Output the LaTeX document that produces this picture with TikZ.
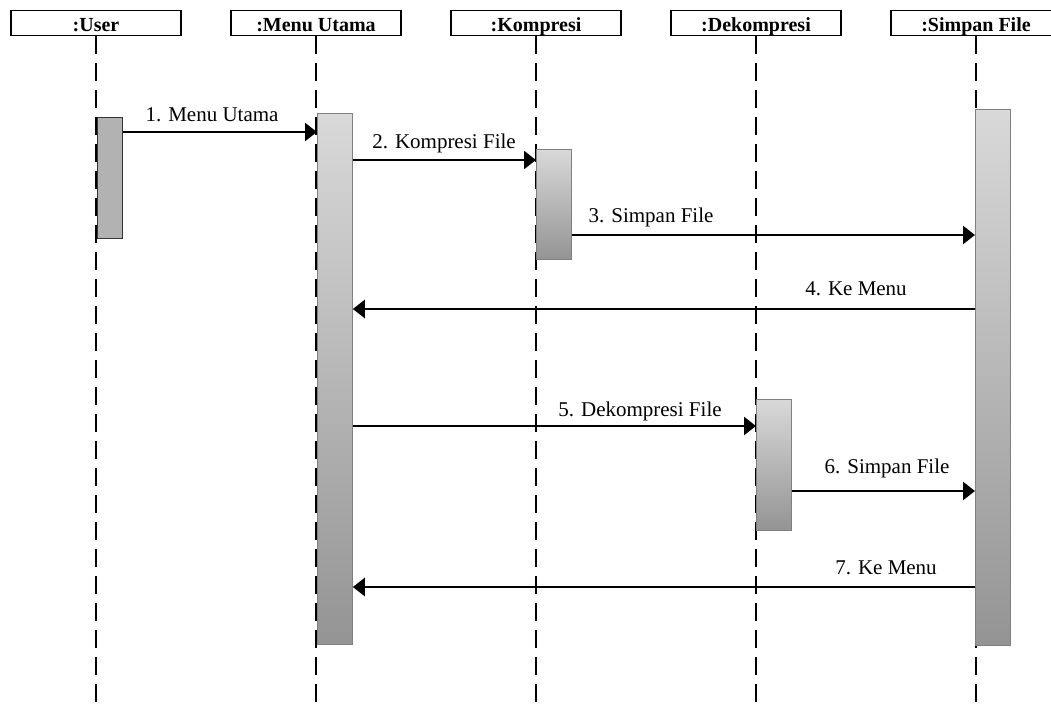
\documentclass[tikz,border=0pt]{standalone}
\usepackage{fontspec}
\setmainfont{Liberation Serif}
\usetikzlibrary{arrows.meta}
\begin{document}
\begin{tikzpicture}[x=1pt,y=-1pt,
  header/.style={draw=black,line width=1.3pt,fill=white,minimum width=170pt,minimum height=25pt,inner sep=0pt,text height=17pt,text depth=0.5pt,font=\fontsize{20}{20}\selectfont\bfseries},
  lifeline/.style={line width=2pt,dash pattern=on 18pt off 9pt},
  actflat/.style={draw=black!80,line width=0.8pt,fill=black!30,anchor=north west,inner sep=0pt,minimum width=25pt},
  actgrad/.style={draw=black!50,line width=0.8pt,top color=black!15,bottom color=black!42,anchor=north west,inner sep=0pt,minimum width=35pt},
  msg/.style={line width=2.4pt,-{Triangle[length=12pt,width=18pt]}},
  lbl/.style={font=\fontsize{21}{21}\selectfont,anchor=base,inner sep=0pt}
]
\useasboundingbox (0,0) rectangle (1051,707);
% headers
\node[header] (hu) at (96,23) {:User};
\node[header] (hm) at (316,23) {:Menu Utama};
\node[header] (hk) at (536,23) {:Kompresi};
\node[header] (hd) at (756,23) {:Dekompresi};
\node[header] (hs) at (976,23) {:Simpan File};
% lifeline ends
\coordinate (eu) at (96,707);
\coordinate (em) at (316,707);
\coordinate (ek) at (536,707);
\coordinate (ed) at (756,707);
\coordinate (es) at (976,707);
\draw[lifeline] (hu.south) -- (eu);
\draw[lifeline] (hm.south) -- (em);
\draw[lifeline] (hk.south) -- (ek);
\draw[lifeline] (hd.south) -- (ed);
\draw[lifeline] (hs.south) -- (es);
% activations
\node[actflat,minimum height=121pt] (au) at (97,117) {};
\node[actgrad,minimum height=531pt] (am) at (317,113) {};
\node[actgrad,minimum height=110pt] (ak) at (536,149) {};
\node[actgrad,minimum height=131pt] (ad) at (756,399) {};
\node[actgrad,minimum height=536pt] (as) at (975,109) {};
% message levels
\coordinate (y1) at (0,132);
\coordinate (y2) at (0,160);
\coordinate (y3) at (0,235);
\coordinate (y4) at (0,309);
\coordinate (y5) at (0,426);
\coordinate (y6) at (0,491);
\coordinate (y7) at (0,587);
\draw[msg] (au.east |- y1) -- (am.west |- y1);
\draw[msg] (am.east |- y2) -- (ak.west |- y2);
\draw[msg] (ak.east |- y3) -- (as.west |- y3);
\draw[msg] (as.west |- y4) -- (am.east |- y4);
\draw[msg] (am.east |- y5) -- (ad.west |- y5);
\draw[msg] (ad.east |- y6) -- (as.west |- y6);
\draw[msg] (as.west |- y7) -- (am.east |- y7);
% labels
\node[lbl] (l1) at (212,121) {1. Menu Utama};
\node[lbl] (l2) at (444,148) {2. Kompresi File};
\node[lbl] (l3) at (651,222) {3. Simpan File};
\node[lbl] (l4) at (856,295) {4. Ke Menu};
\node[lbl] (l5) at (640,416) {5. Dekompresi File};
\node[lbl] (l6) at (887,473) {6. Simpan File};
\node[lbl] (l7) at (886,574) {7. Ke Menu};
\end{tikzpicture}
\end{document}
